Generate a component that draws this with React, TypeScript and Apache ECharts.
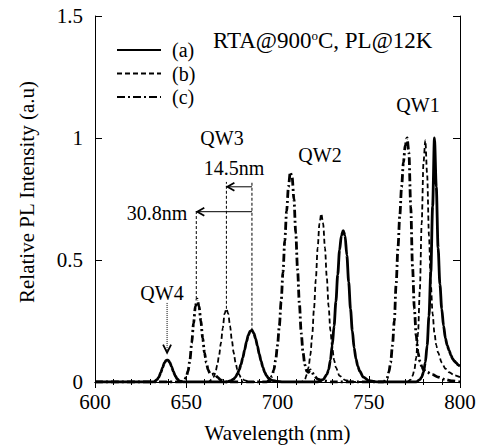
import React, { useEffect, useRef } from 'react';
import * as echarts from 'echarts';

const FONT = 'Liberation Serif';

// Series (a) – solid
const aWl = [600, 632, 633, 634, 635, 636, 637, 638, 639, 640, 641, 642, 643, 644, 645, 646, 647, 649,
  672, 674, 676, 677, 678, 679, 680, 681, 682, 683, 684, 685, 686, 687, 688, 689, 690, 691, 692, 693, 694, 695, 697, 700, 703,
  722, 725, 727, 728, 729, 730, 731, 732, 733, 734, 735, 736, 737, 738, 739, 740, 741, 742, 743, 744, 745, 747, 750, 755,
  776, 778, 779, 780, 781, 782, 783, 784, 785, 786, 787, 788, 789, 790, 791, 792, 793, 794, 795, 796, 797, 798, 799, 800];
const aInt = [0, 0, 0.004, 0.01, 0.02, 0.038, 0.058, 0.078, 0.089, 0.09, 0.08, 0.062, 0.042, 0.025, 0.013, 0.006, 0.002, 0,
  0, 0.004, 0.012, 0.02, 0.033, 0.05, 0.072, 0.1, 0.132, 0.165, 0.192, 0.208, 0.212, 0.2, 0.178, 0.148, 0.115, 0.085, 0.06, 0.04, 0.026, 0.016, 0.007, 0.002, 0,
  0, 0.01, 0.03, 0.05, 0.09, 0.15, 0.23, 0.33, 0.44, 0.54, 0.6, 0.62, 0.6, 0.52, 0.41, 0.3, 0.21, 0.14, 0.095, 0.065, 0.045, 0.02, 0.006, 0,
  0, 0.01, 0.02, 0.04, 0.08, 0.15, 0.27, 0.45, 0.72, 1.0, 0.8, 0.55, 0.4, 0.3, 0.23, 0.18, 0.15, 0.13, 0.11, 0.095, 0.085, 0.078, 0.07, 0.065];

// Series (b) – dashed
const bWl = [600, 662, 664, 665, 666, 667, 668, 669, 670, 671, 672, 673, 674, 675, 676, 677, 678, 679, 680, 682, 685,
  713, 715, 716, 717, 718, 719, 720, 721, 722, 723, 724, 725, 726, 727, 728, 729, 730, 731, 732, 734, 737, 742,
  771, 773, 774, 775, 776, 777, 778, 779, 780, 781, 782, 783, 784, 785, 786, 787, 788, 790, 792, 794, 797, 800];
const bInt = [0, 0, 0.01, 0.02, 0.04, 0.07, 0.11, 0.16, 0.22, 0.28, 0.3, 0.28, 0.23, 0.17, 0.12, 0.08, 0.05, 0.03, 0.018, 0.007, 0,
  0, 0.01, 0.03, 0.06, 0.11, 0.19, 0.3, 0.42, 0.55, 0.65, 0.69, 0.65, 0.55, 0.43, 0.31, 0.21, 0.14, 0.09, 0.06, 0.025, 0.008, 0,
  0, 0.01, 0.025, 0.05, 0.1, 0.2, 0.38, 0.65, 0.9, 0.99, 0.85, 0.6, 0.4, 0.28, 0.2, 0.15, 0.12, 0.08, 0.055, 0.04, 0.028, 0.02];

// Series (c) – dash-dot
const cWl = [600, 647, 649, 650, 651, 652, 653, 654, 655, 656, 657, 658, 659, 660, 661, 662, 663, 664, 665, 666, 667, 669, 672,
  694, 696, 697, 698, 699, 700, 701, 702, 703, 704, 705, 706, 707, 708, 709, 710, 711, 712, 713, 714, 715, 716, 717, 718, 719, 720, 722, 725, 730,
  758, 760, 761, 762, 763, 764, 765, 766, 767, 768, 769, 770, 771, 772, 773, 774, 775, 776, 777, 778, 779, 780, 782, 785, 788, 792, 796, 800];
const cInt = [0, 0, 0.008, 0.02, 0.045, 0.09, 0.16, 0.24, 0.31, 0.34, 0.31, 0.25, 0.18, 0.12, 0.08, 0.05, 0.035, 0.03, 0.033, 0.03, 0.02, 0.008, 0,
  0, 0.01, 0.025, 0.05, 0.09, 0.15, 0.23, 0.33, 0.45, 0.58, 0.7, 0.8, 0.86, 0.84, 0.75, 0.61, 0.46, 0.32, 0.2, 0.12, 0.07, 0.045, 0.04, 0.05, 0.04, 0.025, 0.012, 0.005, 0,
  0, 0.015, 0.04, 0.08, 0.15, 0.25, 0.4, 0.55, 0.68, 0.8, 0.9, 0.97, 1.0, 0.94, 0.72, 0.47, 0.3, 0.19, 0.12, 0.085, 0.065, 0.05, 0.04, 0.03, 0.02, 0.01, 0.004, 0];

const seriesNames = ['(a)', '(b)', '(c)'];

// Annotation texts, in data coordinates [wavelength, intensity]
const qwLabels = ['QW1', 'QW2', 'QW3', 'QW4'];
const qwPos = [[777, 1.135], [723.3, 0.93], [669.6, 1.0], [636.7, 0.365]];
const shiftLabels = ['14.5nm', '30.8nm'];
const shiftPos = [[676.2, 0.877], [634, 0.693]];
// Peak wavelengths of QW3 for (a), (b), (c)
const qw3Peaks = [686, 672, 655.5];
const qw3PeakInt = [0.21, 0.3, 0.34];
const guideTop = [0.82, 0.82, 0.705];
const arrowY = [0.8, 0.698];
const qw4Arrow = [639.5, 0.324, 0.12];

const zip = (xs: number[], ys: number[]) => xs.map((x, i) => [x, ys[i]]);

export default function App() {
  const ref = useRef<HTMLDivElement>(null);
  useEffect(() => {
    const chart = echarts.init(ref.current as HTMLDivElement, null, { renderer: 'svg' });
    const axisCommon = {
      type: 'value' as const,
      axisLine: { show: true, lineStyle: { color: '#000', width: 1 } },
      splitLine: { show: false },
    };
    const lineCommon = { type: 'line', showSymbol: false, symbol: 'none', smooth: 0.3, smoothMonotone: 'x' };
    chart.setOption({
      animation: false,
      backgroundColor: '#fff',
      textStyle: { fontFamily: FONT },
      grid: { left: 95, right: 21, top: 16, bottom: 66 },
      legend: {
        data: seriesNames,
        orient: 'vertical',
        left: 116,
        top: 40,
        padding: 0,
        itemWidth: 44,
        itemHeight: 14,
        itemGap: 3.5,
        itemStyle: { color: 'transparent', borderWidth: 0, opacity: 0 },
        textStyle: { fontFamily: FONT, fontSize: 20, color: '#000', padding: [0, 0, 0, 6] },
      },
      xAxis: [
        {
          ...axisCommon,
          min: 600, max: 800, interval: 50,
          name: 'Wavelength (nm)', nameLocation: 'middle', nameGap: 40,
          nameTextStyle: { fontFamily: FONT, fontSize: 21, color: '#000' },
          axisTick: { inside: true, length: 6, lineStyle: { color: '#000' } },
          minorTick: { show: true, splitNumber: 5, length: 3, lineStyle: { color: '#000' } },
          axisLabel: { fontFamily: FONT, fontSize: 21, color: '#000', margin: 9 },
        },
        {
          ...axisCommon,
          position: 'top',
          min: 600, max: 800, interval: 50,
          axisTick: { inside: true, length: 6, lineStyle: { color: '#000' } },
          minorTick: { show: true, splitNumber: 5, length: 3, lineStyle: { color: '#000' } },
          axisLabel: { show: false },
        },
      ],
      yAxis: [
        {
          ...axisCommon,
          min: 0, max: 1.5, interval: 0.5,
          name: 'Relative PL Intensity (a.u)', nameLocation: 'middle', nameGap: 58,
          nameTextStyle: { fontFamily: FONT, fontSize: 21, color: '#000', padding: [0, 0, 0, 14] },
          axisTick: { inside: true, length: 7, lineStyle: { color: '#000' } },
          axisLabel: { fontFamily: FONT, fontSize: 21, color: '#000', margin: 12 },
        },
        {
          ...axisCommon,
          position: 'right',
          min: 0, max: 1.5, interval: 0.5,
          axisTick: { inside: true, length: 7, lineStyle: { color: '#000' } },
          axisLabel: { show: false },
        },
      ],
      series: [
        {
          ...lineCommon, name: seriesNames[0], data: zip(aWl, aInt),
          lineStyle: { color: '#000', width: 2.8, type: 'solid' }, itemStyle: { color: '#000' },
        },
        {
          ...lineCommon, name: seriesNames[1], data: zip(bWl, bInt),
          lineStyle: { color: '#000', width: 1.8, type: [5, 3] }, itemStyle: { color: '#000' },
        },
        {
          ...lineCommon, name: seriesNames[2], data: zip(cWl, cInt),
          lineStyle: { color: '#000', width: 2.8, type: [8, 3, 2, 3] }, itemStyle: { color: '#000' },
        },
      ],
    });

    const px = (x: number, y: number) => chart.convertToPixel({ gridIndex: 0 }, [x, y]) as number[];
    const g: any[] = [];
    const txt = (t: string, p: number[], align: string) => ({
      type: 'text',
      style: { text: t, x: p[0], y: p[1], align, verticalAlign: 'middle', fontFamily: FONT, fontSize: 20, fill: '#000' },
    });
    qwLabels.forEach((t, i) => g.push(txt(t, px(qwPos[i][0], qwPos[i][1]), 'center')));
    g.push(txt(shiftLabels[0], px(shiftPos[0][0], shiftPos[0][1]), 'center'));
    g.push(txt(shiftLabels[1], px(shiftPos[1][0], shiftPos[1][1]), 'center'));

    // vertical dashed guide lines
    qw3Peaks.forEach((w, i) => {
      const p1 = px(w, qw3PeakInt[i]);
      const p2 = px(w, guideTop[i]);
      g.push({ type: 'line', shape: { x1: p1[0], y1: p1[1], x2: p2[0], y2: p2[1] }, style: { stroke: '#000', lineWidth: 1, lineDash: [3, 2] } });
    });
    // horizontal arrows
    [1, 2].forEach((k, j) => {
      const s = px(qw3Peaks[0], arrowY[j]);
      const e = px(qw3Peaks[k], arrowY[j]);
      g.push({ type: 'line', shape: { x1: s[0], y1: s[1], x2: e[0], y2: e[1] }, style: { stroke: '#000', lineWidth: 1 } });
      g.push({ type: 'polyline', shape: { points: [[e[0] + 8, e[1] - 4], [e[0] + 1, e[1]], [e[0] + 8, e[1] + 4]] }, style: { stroke: '#000', lineWidth: 1.8, fill: 'none' } });
    });
    // QW4 arrow
    {
      const s = px(qw4Arrow[0], qw4Arrow[1]);
      const e = px(qw4Arrow[0], qw4Arrow[2]);
      g.push({ type: 'line', shape: { x1: s[0], y1: s[1], x2: e[0], y2: e[1] }, style: { stroke: '#000', lineWidth: 1, lineDash: [1, 1] } });
      g.push({ type: 'polyline', shape: { points: [[e[0] - 4, e[1] - 8], [e[0], e[1]], [e[0] + 4, e[1] - 8]] }, style: { stroke: '#000', lineWidth: 1.8, fill: 'none' } });
    }
    // condition text
    g.push({
      type: 'text',
      style: {
        text: 'RTA@900{s|o}C, PL@12K',
        x: 213, y: 40, align: 'left', verticalAlign: 'middle',
        fontFamily: FONT, fontSize: 23, fill: '#000',
        rich: { s: { fontFamily: FONT, fontSize: 13, fill: '#000', verticalAlign: 'top', padding: [0, 0, 9, 0] } },
      },
    });
    chart.setOption({ graphic: g });
    return () => chart.dispose();
  }, []);
  return <div ref={ref} style={{ width: 481, height: 448, position: 'absolute', left: 0, top: 0 }} />;
}
